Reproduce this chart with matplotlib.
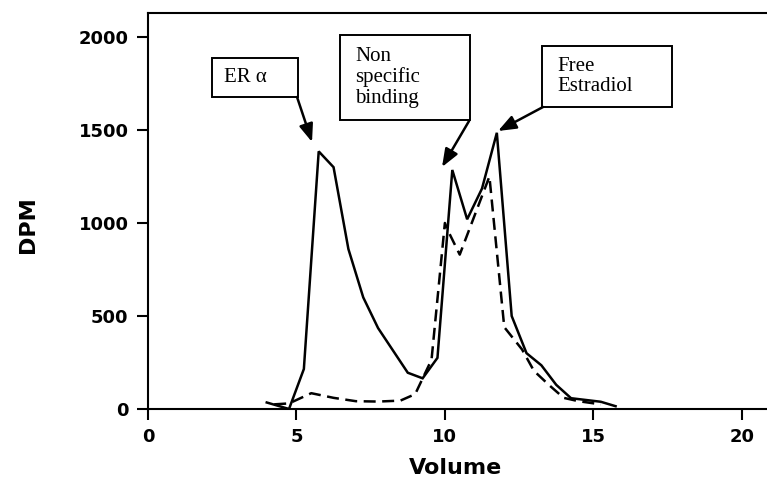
import numpy as np
import matplotlib.pyplot as plt
from matplotlib.patches import Rectangle

# total binding (solid) and non specific binding (dashed), DPM vs elution volume
vol_total = [4.0, 4.75, 5.25, 5.75, 6.25, 6.75, 7.25, 7.75, 8.75, 9.25, 9.75,
             10.25, 10.75, 11.25, 11.75, 12.25, 12.75, 13.25, 13.75, 14.25, 15.25, 15.75]
dpm_total = [35, 0, 215, 1385, 1300, 860, 600, 435, 195, 165, 275,
             1285, 1020, 1185, 1485, 500, 300, 235, 130, 58, 39, 15]

vol_nsb = [4.25, 4.75, 5.5, 6.25, 7.0, 7.75, 8.5, 9.0, 9.55, 10.0, 10.1,
           10.5, 11.0, 11.5, 12.0, 12.6, 13.0, 13.5, 14.0, 14.5, 15.25]
dpm_nsb = [25, 30, 85, 60, 42, 40, 45, 80, 265, 1000, 960,
           830, 1040, 1250, 440, 320, 205, 130, 60, 42, 25]

xticks = [0, 5, 10, 15, 20]
yticks = [0, 500, 1000, 1500, 2000]

fig = plt.figure(figsize=(7.67, 4.90), dpi=100)
ax = fig.add_axes([148 / 767, 81 / 490, 1 - 148 / 767, 396 / 490])

ax.plot(vol_total, dpm_total, color='black', lw=1.8, solid_joinstyle='miter')
ax.plot(vol_nsb, dpm_nsb, color='black', lw=1.8, linestyle=(0, (4.8, 2.6)))

ax.set_xlim(0, 20.85)
ax.set_ylim(0, 2129)
ax.set_xticks(xticks)
ax.set_yticks(yticks)
ax.spines['right'].set_visible(False)
for s in ['top', 'left', 'bottom']:
    ax.spines[s].set_linewidth(1.5)
ax.tick_params(direction='out', length=8, width=1.5, labelsize=13, pad=6)
for lab in ax.get_xticklabels() + ax.get_yticklabels():
    lab.set_fontweight('bold')

ax.set_xlabel('Volume', fontsize=16, fontweight='bold')
ax.set_ylabel('DPM', fontsize=16, fontweight='bold')
ax.xaxis.set_label_coords(0.496, -0.149)
ax.yaxis.set_label_coords(-0.194, 0.465)
ax.xaxis.label.set_va('center')
ax.yaxis.label.set_va('center')


def px(x, y):
    # figure pixel position -> data coordinates
    return (x - 148) / 29.685, (409 - y) / 0.186


def box(x0, y0, x1, y1, lines, tx):
    (a, b), (c, d) = px(x0, y1), px(x1, y0)
    ax.add_patch(Rectangle((a, b), c - a, d - b, fill=False, lw=1.4,
                           ec='black', clip_on=False, zorder=3))
    tx_d, ty_d = px(tx, (y0 + y1) / 2)
    ax.text(tx_d, ty_d, lines, family='Liberation Serif', fontsize=15,
            va='center', ha='left', linespacing=1.1, zorder=4)


def arrow(tail, tip):
    ax.annotate('', xy=px(*tip), xytext=px(*tail),
                arrowprops=dict(arrowstyle='-|>,head_length=0.9,head_width=0.35',
                                color='black', lw=1.8, shrinkA=0, shrinkB=0,
                                mutation_scale=12))


box(212, 58, 298, 97, 'ER α', 224)
box(340, 35, 470, 120, 'Non\nspecific\nbinding', 355)
box(542, 46, 672, 107, 'Free\nEstradiol', 557)

arrow((297, 97), (312, 142))
arrow((469, 121), (442, 167))
arrow((543, 107), (498, 131))

fig.savefig('out.png', dpi=100)
